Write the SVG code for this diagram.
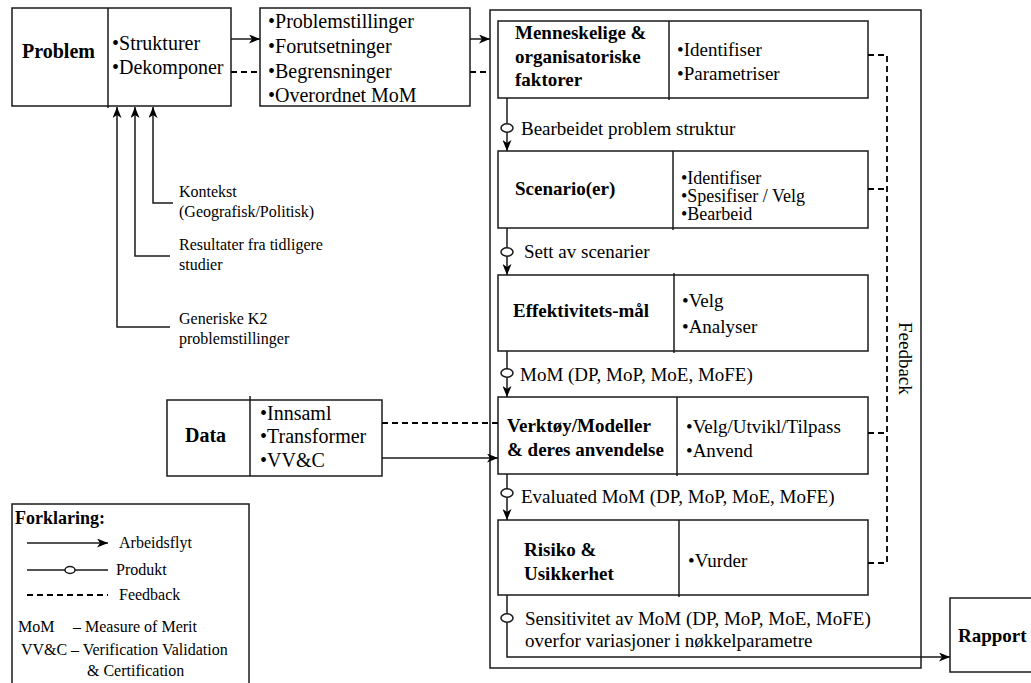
<svg xmlns="http://www.w3.org/2000/svg" width="1031" height="683" viewBox="0 0 1031 683">
  <defs>
    <style>
      .box{fill:#fff;stroke:#1a1a1a;stroke-width:1.5}
      .div{stroke:#1a1a1a;stroke-width:1.5}
      .t{font-family:"Liberation Serif","Times New Roman",serif;fill:#000}
      .b{font-weight:bold}
      .s20{font-size:20px}
      .s19{font-size:19px}
      .s18{font-size:18px}
      .s16{font-size:16px}
      .flow{fill:none;stroke:#1a1a1a;stroke-width:1.5}
      .fb{fill:none;stroke:#000;stroke-width:1.8;stroke-dasharray:6 4}
      .prod{fill:#fff;stroke:#1a1a1a;stroke-width:1.5}
    </style>
    <marker id="ah" viewBox="0 0 11 9" refX="11" refY="4.5" markerWidth="11" markerHeight="9" markerUnits="userSpaceOnUse" orient="auto">
      <path d="M0,0 L11,4.5 L0,9 L3,4.5 z" fill="#000"/>
    </marker>
  </defs>

  <rect width="1031" height="683" fill="#fff"/>

  <!-- outer frame around the analysis steps -->
  <g id="frame">
    <rect x="490" y="10" width="431" height="658" fill="none" stroke="#1a1a1a" stroke-width="1.5"/>
    <text class="t s19" transform="translate(899,322) rotate(90)">Feedback</text>
  </g>

  <g id="problem">
    <rect class="box" x="12" y="8" width="219" height="98"/>
    <line class="div" x1="108" y1="8" x2="108" y2="108"/>
    <text class="t b s20" x="22" y="58">Problem</text>
    <text class="t s20" x="112" y="50">•Strukturer</text>
    <text class="t s20" x="112" y="74">•Dekomponer</text>
  </g>

  <g id="formulering">
    <rect class="box" x="260" y="8" width="210" height="98"/>
    <text class="t s20" x="268" y="28">•Problemstillinger</text>
    <text class="t s20" x="268" y="53">•Forutsetninger</text>
    <text class="t s20" x="268" y="78">•Begrensninger</text>
    <text class="t s20" x="268" y="102">•Overordnet MoM</text>
  </g>

  <g id="faktorer">
    <rect class="box" x="498" y="21" width="370" height="77"/>
    <line class="div" x1="669" y1="21" x2="669" y2="100"/>
    <text class="t b s19" x="515" y="39">Menneskelige &amp;</text>
    <text class="t b s19" x="515" y="63">organisatoriske</text>
    <text class="t b s19" x="515" y="86">faktorer</text>
    <text class="t s19" x="677" y="56">•Identifiser</text>
    <text class="t s19" x="677" y="80">•Parametriser</text>
  </g>

  <g id="scenario">
    <rect class="box" x="498" y="151" width="370" height="77"/>
    <line class="div" x1="673" y1="151" x2="673" y2="230"/>
    <text class="t b s19" x="515" y="195">Scenario(er)</text>
    <text class="t s18" x="681" y="184">•Identifiser</text>
    <text class="t s18" x="681" y="202">•Spesifiser / Velg</text>
    <text class="t s18" x="681" y="220">•Bearbeid</text>
  </g>

  <g id="effektivitet">
    <rect class="box" x="498" y="275" width="370" height="76"/>
    <line class="div" x1="674" y1="273" x2="674" y2="353"/>
    <text class="t b s19" x="513" y="317">Effektivitets-mål</text>
    <text class="t s19" x="682" y="307">•Velg</text>
    <text class="t s19" x="682" y="333">•Analyser</text>
  </g>

  <g id="verktoy">
    <rect class="box" x="498" y="397" width="370" height="77"/>
    <line class="div" x1="677" y1="397" x2="677" y2="476"/>
    <text class="t b s19" x="507" y="432">Verktøy/Modeller</text>
    <text class="t b s19" x="507" y="456">&amp; deres anvendelse</text>
    <text class="t s19" x="686" y="433">•Velg/Utvikl/Tilpass</text>
    <text class="t s19" x="686" y="457">•Anvend</text>
  </g>

  <g id="risiko">
    <rect class="box" x="498" y="520" width="370" height="75"/>
    <line class="div" x1="679" y1="520" x2="679" y2="597"/>
    <text class="t b s19" x="524" y="556">Risiko &amp;</text>
    <text class="t b s19" x="524" y="580">Usikkerhet</text>
    <text class="t s19" x="688" y="567">•Vurder</text>
  </g>

  <g id="data">
    <rect class="box" x="167" y="400" width="215" height="76"/>
    <line class="div" x1="250" y1="396" x2="250" y2="476"/>
    <text class="t b s20" x="185" y="442">Data</text>
    <text class="t s20" x="260" y="420">•Innsaml</text>
    <text class="t s20" x="260" y="443">•Transformer</text>
    <text class="t s20" x="260" y="467">•VV&amp;C</text>
  </g>

  <g id="rapport">
    <rect class="box" x="950" y="598" width="100" height="74"/>
    <text class="t b s19" x="958" y="642">Rapport</text>
  </g>

  <g id="innspill">
    <text class="t s16" x="179" y="197">Kontekst</text>
    <text class="t s16" x="179" y="217">(Geografisk/Politisk)</text>
    <text class="t s16" x="179" y="250">Resultater fra tidligere</text>
    <text class="t s16" x="179" y="270">studier</text>
    <text class="t s16" x="179" y="324">Generiske K2</text>
    <text class="t s16" x="179" y="344">problemstillinger</text>
  </g>

  <g id="connectors">
    <!-- workflow -->
    <path class="flow" d="M231,39 H260" marker-end="url(#ah)"/>
    <path class="flow" d="M470,39 H490" marker-end="url(#ah)"/>
    <path class="flow" d="M382,458 H498" marker-end="url(#ah)"/>
    <path class="flow" d="M173,203 H153 V107" marker-end="url(#ah)"/>
    <path class="flow" d="M170,256 H135 V107" marker-end="url(#ah)"/>
    <path class="flow" d="M170,327 H117 V107" marker-end="url(#ah)"/>

    <!-- products between steps -->
    <path class="flow" d="M507,98 V151" marker-end="url(#ah)"/>
    <ellipse class="prod" cx="507" cy="128" rx="6" ry="4.2"/>
    <text class="t s19" x="521" y="135">Bearbeidet problem struktur</text>

    <path class="flow" d="M507,228 V275" marker-end="url(#ah)"/>
    <ellipse class="prod" cx="507" cy="252" rx="6" ry="4.2"/>
    <text class="t s19" x="524" y="258">Sett av scenarier</text>

    <path class="flow" d="M507,351 V397" marker-end="url(#ah)"/>
    <ellipse class="prod" cx="507" cy="373" rx="6" ry="4.2"/>
    <text class="t s19" x="520" y="381">MoM (DP, MoP, MoE, MoFE)</text>

    <path class="flow" d="M507,474 V520" marker-end="url(#ah)"/>
    <ellipse class="prod" cx="507" cy="493" rx="6" ry="4.2"/>
    <text class="t s19" x="521" y="503">Evaluated MoM (DP, MoP, MoE, MoFE)</text>

    <path class="flow" d="M507,595 V657 H950" marker-end="url(#ah)"/>
    <ellipse class="prod" cx="507" cy="618" rx="6" ry="4.2"/>
    <text class="t s19" x="525" y="625">Sensitivitet av MoM (DP, MoP, MoE, MoFE)</text>
    <text class="t s19" x="525" y="647">overfor variasjoner i nøkkelparametre</text>

    <!-- feedback -->
    <path class="fb" d="M231,72 H260"/>
    <path class="fb" d="M470,72 H490"/>
    <path class="fb" d="M382,423 H498"/>
    <path class="fb" d="M868,55 H887 V563 H868"/>
    <path class="fb" d="M868,189 H887"/>
    <path class="fb" d="M868,433 H887"/>
  </g>

  <g id="legend">
    <rect x="12" y="504" width="237" height="190" fill="none" stroke="#1a1a1a" stroke-width="1.5"/>
    <text class="t b s18" x="15" y="524">Forklaring:</text>
    <path class="flow" d="M27,543 H108" marker-end="url(#ah)"/>
    <text class="t s16" x="119" y="548">Arbeidsflyt</text>
    <path class="flow" d="M27,570 H108"/>
    <ellipse class="prod" cx="70" cy="570" rx="5" ry="3.5"/>
    <text class="t s16" x="116" y="575">Produkt</text>
    <path class="fb" d="M27,595 H108"/>
    <text class="t s16" x="119" y="600">Feedback</text>
    <text class="t s16" x="18" y="632">MoM</text>
    <text class="t s16" x="73" y="632">– Measure of Merit</text>
    <text class="t s16" x="21" y="655">VV&amp;C</text>
    <text class="t s16" x="71" y="655">– Verification Validation</text>
    <text class="t s16" x="87" y="676">&amp; Certification</text>
  </g>
</svg>
